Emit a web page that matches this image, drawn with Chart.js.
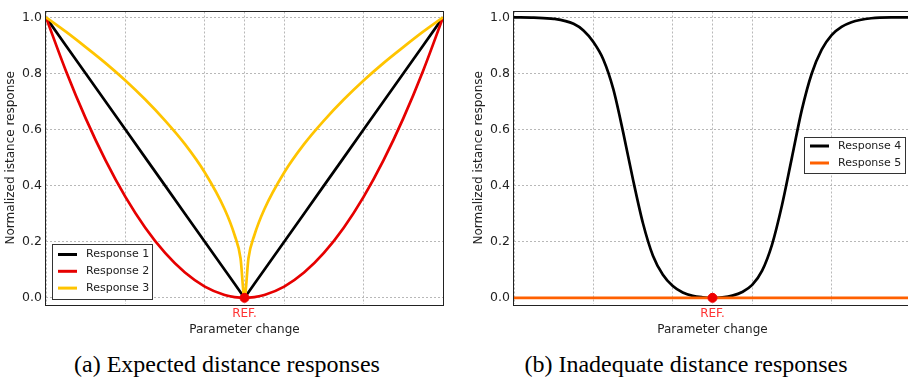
<!DOCTYPE html>
<html>
<head>
<meta charset="utf-8">
<script src="https://cdn.jsdelivr.net/npm/chart.js@4.4.0/dist/chart.umd.min.js"></script>
<style>
  html, body { margin: 0; padding: 0; background: #fff; }
  #page { position: relative; width: 908px; height: 382px; overflow: hidden; }
  canvas { position: absolute; top: 0; }
  #chartA { left: 0; }
  #chartB { left: 460px; }
  .caption {
    position: absolute; top: 350px;
    font-family: 'Liberation Serif', 'Times New Roman', serif;
    font-size: 24px; line-height: 28px; color: #000;
    white-space: nowrap; transform: translateX(-50%);
  }
</style>
</head>
<body>
<div id="page">
  <canvas id="chartA" width="460" height="345"></canvas>
  <canvas id="chartB" width="470" height="345"></canvas>
  <div class="caption" style="left:227px">(a) Expected distance responses</div>
  <div class="caption" style="left:686px">(b) Inadequate distance responses</div>
</div>
<script>
// chart (a)
const paramA = [-1, -0.9, -0.8, -0.7, -0.6, -0.5, -0.4, -0.3, -0.2, -0.1, -0.05, -0.02, 0,
  0.02, 0.05, 0.1, 0.2, 0.3, 0.4, 0.5, 0.6, 0.7, 0.8, 0.9, 1];
const response1 = [1, 0.9, 0.8, 0.7, 0.6, 0.5, 0.4, 0.3, 0.2, 0.1, 0.05, 0.02, 0,
  0.02, 0.05, 0.1, 0.2, 0.3, 0.4, 0.5, 0.6, 0.7, 0.8, 0.9, 1];
const response2 = [1, 0.81, 0.64, 0.49, 0.36, 0.25, 0.16, 0.09, 0.04, 0.01, 0.0025, 0.0004, 0,
  0.0004, 0.0025, 0.01, 0.04, 0.09, 0.16, 0.25, 0.36, 0.49, 0.64, 0.81, 1];
const response3 = [1, 0.949, 0.894, 0.837, 0.775, 0.707, 0.632, 0.548, 0.447, 0.316, 0.224, 0.141, 0,
  0.141, 0.224, 0.316, 0.447, 0.548, 0.632, 0.707, 0.775, 0.837, 0.894, 0.949, 1];

// chart (b)
const paramB = [-1, -0.9, -0.8, -0.7, -0.65, -0.6, -0.55, -0.5, -0.45, -0.4, -0.35, -0.3, -0.25, -0.2, -0.15, -0.1, -0.05, 0,
  0.05, 0.1, 0.15, 0.2, 0.25, 0.3, 0.35, 0.4, 0.45, 0.5, 0.55, 0.6, 0.65, 0.7, 0.8, 0.9, 1];
const response4 = [1, 0.999, 0.995, 0.977, 0.953, 0.912, 0.85, 0.745, 0.59, 0.42, 0.265, 0.15, 0.082, 0.042, 0.019, 0.007, 0.002, 0,
  0.002, 0.008, 0.021, 0.046, 0.097, 0.19, 0.33, 0.5, 0.67, 0.8, 0.885, 0.937, 0.966, 0.983, 0.997, 1, 1];
const paramB5 = [-1, 1];
const response5 = [0, 0];

const refX = [0];
const refY = [0];
const xTicks = [-1, -0.6, -0.2, 0, 0.2, 0.6, 1];
const yTicks = [0, 0.2, 0.4, 0.6, 0.8, 1.0];
const refLabel = 'REF.';
const xTitle = 'Parameter change';
const yTitle = 'Normalized istance response';

Chart.defaults.font.family = "'DejaVu Sans', sans-serif";
Chart.defaults.color = '#222';

function points(xs, ys) {
  return xs.map((x, i) => ({ x: x, y: ys[i] }));
}

const framePlugin = {
  id: 'frame',
  afterDraw(chart) {
    const a = chart.chartArea;
    const ctx = chart.ctx;
    ctx.save();
    ctx.strokeStyle = '#222';
    ctx.lineWidth = 1;
    ctx.strokeRect(Math.round(a.left) - 0.5, Math.round(a.top) - 0.5,
      Math.round(a.right - a.left) + 1, Math.round(a.bottom - a.top) + 1);
    ctx.restore();
  }
};

const boxLegend = {
  id: 'boxLegend',
  afterDraw(chart, args, opts) {
    const ctx = chart.ctx;
    const items = chart.data.datasets.filter(d => d.label);
    ctx.save();
    ctx.fillStyle = '#fff';
    ctx.fillRect(opts.x, opts.y, opts.w, opts.h);
    ctx.strokeStyle = '#333';
    ctx.lineWidth = 1;
    ctx.strokeRect(opts.x + 0.5, opts.y + 0.5, opts.w, opts.h);
    ctx.font = "11px 'DejaVu Sans'";
    ctx.textBaseline = 'middle';
    items.forEach((d, i) => {
      const y = opts.y + opts.first + i * opts.step;
      ctx.strokeStyle = d.borderColor;
      ctx.lineWidth = 3;
      ctx.beginPath();
      ctx.moveTo(opts.x + 6, y);
      ctx.lineTo(opts.x + 25, y);
      ctx.stroke();
      ctx.fillStyle = '#222';
      ctx.fillText(d.label, opts.x + 34, y);
    });
    ctx.restore();
  }
};

function makeScales() {
  const grid = { color: '#b8b8b8', lineWidth: 1, drawTicks: false };
  const border = { display: false, dash: [2, 2] };
  return {
    x: {
      type: 'linear', min: -1, max: 1,
      afterBuildTicks: s => { s.ticks = xTicks.map(v => ({ value: v })); },
      afterFit: s => { s.height = 41; },
      grid: grid,
      border: border,
      ticks: {
        padding: 3, color: '#ff3333', font: { size: 12 }, maxRotation: 0, autoSkip: false,
        callback: v => (v === 0 ? refLabel : '')
      },
      title: { display: true, text: xTitle, color: '#222', font: { size: 12 }, padding: { top: 0, bottom: 8 } }
    },
    y: {
      type: 'linear', min: -0.022, max: 1.021,
      afterBuildTicks: s => { s.ticks = yTicks.map(v => ({ value: v })); },
      afterFit: s => { s.width = 46; },
      grid: grid,
      border: border,
      ticks: { padding: 4, color: '#222', font: { size: 12.5 }, callback: v => v.toFixed(1) },
      title: { display: true, text: yTitle, color: '#222', font: { size: 12 }, padding: { top: 4, bottom: 0 } }
    }
  };
}

function lineSet(label, xs, ys, color, order, smooth) {
  return {
    label: label,
    data: points(xs, ys),
    borderColor: color,
    borderWidth: 2.7,
    pointRadius: 0,
    fill: false,
    order: order,
    tension: smooth ? 0.4 : 0,
    cubicInterpolationMode: smooth ? 'monotone' : 'default'
  };
}

function refSet() {
  return {
    data: points(refX, refY),
    showLine: false,
    pointRadius: 4.5,
    pointBackgroundColor: '#ee0000',
    pointBorderColor: '#ee0000',
    order: 0
  };
}

function baseOptions(pad, legendBox) {
  return {
    responsive: false,
    animation: false,
    devicePixelRatio: 1,
    layout: { padding: pad },
    scales: makeScales(),
    plugins: {
      legend: { display: false },
      tooltip: { enabled: false },
      boxLegend: legendBox
    }
  };
}

new Chart(document.getElementById('chartA'), {
  type: 'line',
  data: {
    datasets: [
      lineSet('Response 1', paramA, response1, '#000000', 3, false),
      lineSet('Response 2', paramA, response2, '#e60000', 2, true),
      lineSet('Response 3', paramA, response3, '#ffc400', 1, true),
      refSet()
    ]
  },
  options: baseOptions({ left: 0, top: 6, right: 17, bottom: 0 },
    { x: 52, y: 244, w: 100, h: 55, first: 10.5, step: 16.8 }),
  plugins: [framePlugin, boxLegend]
});

new Chart(document.getElementById('chartB'), {
  type: 'line',
  data: {
    datasets: [
      lineSet('Response 4', paramB, response4, '#000000', 2, true),
      lineSet('Response 5', paramB5, response5, '#ff6000', 1, false),
      refSet()
    ]
  },
  options: baseOptions({ left: 8, top: 6, right: 19, bottom: 0 },
    { x: 344, y: 137, w: 101, h: 36, first: 9, step: 17 }),
  plugins: [framePlugin, boxLegend]
});
</script>
</body>
</html>
